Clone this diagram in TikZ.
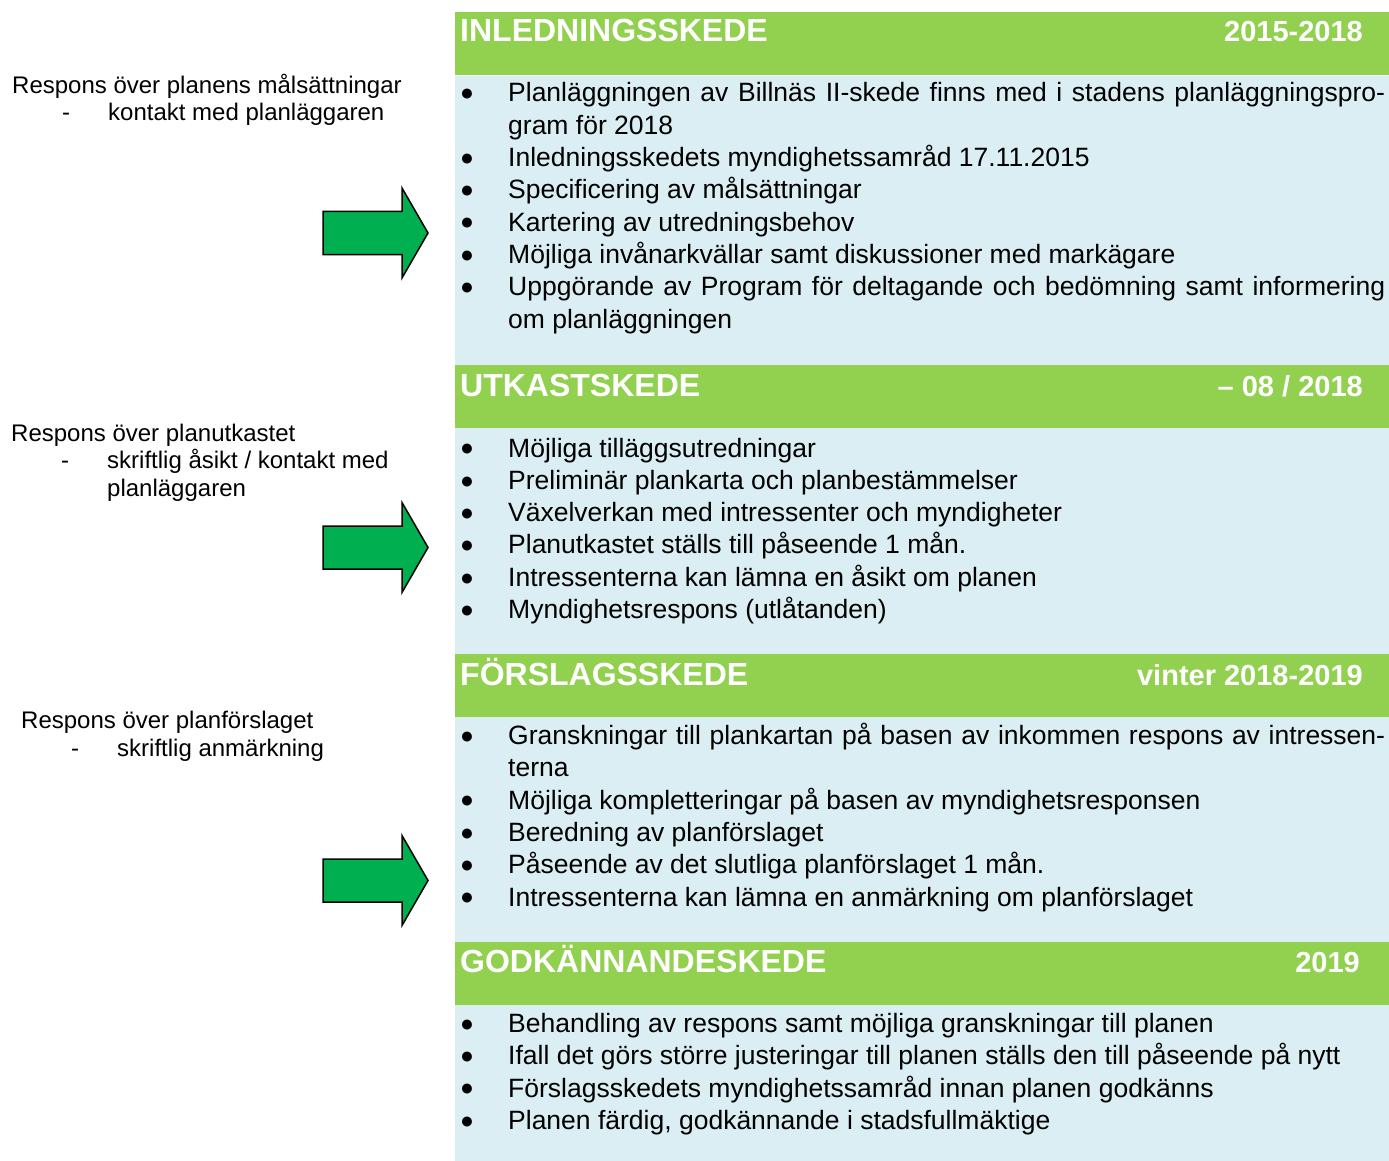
\documentclass[tikz,border=0pt]{standalone}
\usepackage{fontspec}
\setmainfont{Liberation Sans}

\definecolor{hdrgreen}{RGB}{146, 208, 80}
\definecolor{panelblue}{RGB}{218, 238, 243}
\definecolor{arrowgreen}{RGB}{0, 176, 80}

\hyphenpenalty=10000
\exhyphenpenalty=10000
\newcommand{\punkt}[1]{\noindent\hangindent=48pt\hangafter=1%
    \makebox[48pt][l]{\raisebox{1.2pt}{\fontsize{23}{23}\selectfont ●}}#1\par}

\begin{document}
\begin{tikzpicture}[x=1pt, y=-1pt,
    hdr/.style={text=white, inner sep=0pt, anchor=base west, font=\bfseries\fontsize{32}{38}\selectfont},
    datum/.style={hdr, anchor=base east, font=\bfseries\fontsize{29}{34}\selectfont},
    lista/.style={anchor=base west, inner sep=0pt, text width=925pt, align=justify,
        font=\fontsize{26.5}{32.3}\selectfont},
    respons/.style={anchor=base west, inner sep=0pt, align=left, font=\fontsize{24}{27.6}\selectfont}]
        \def\L{455}
        \def\R{1389}
        \useasboundingbox (0,0) rectangle (\R,1161);

        % Panel and header bars
        \fill[panelblue] (\L,76) rectangle (\R,1161);
        \foreach \y in {12,365,654,942}
            \fill[hdrgreen] (\L,\y) rectangle (\R,\y+63);

        % Stage headers
        \node[hdr] (inledning) at (460,42) {INLEDNINGSSKEDE};
        \node[datum] (inledningtid) at (1363,42) {2015-2018};
        \node[hdr] (utkast) at (460,396) {UTKASTSKEDE};
        \node[datum] (utkasttid) at (1363,396) {– 08 / 2018};
        \node[hdr] (forslag) at (460,685) {FÖRSLAGSSKEDE};
        \node[datum] (forslagtid) at (1363,685) {vinter 2018-2019};
        \node[hdr] (godkann) at (460,972) {GODKÄNNANDESKEDE};
        \node[datum] (godkanntid) at (1360,972) {2019};

        % Item lists
        \node[lista] (inledninglista) at (460,102) {%
            \punkt{Planläggningen av Billnäs II-skede finns med i stadens planläggningspro-\linebreak gram för 2018}
            \punkt{Inledningsskedets myndighetssamråd 17.11.2015}
            \punkt{Specificering av målsättningar}
            \punkt{Kartering av utredningsbehov}
            \punkt{Möjliga invånarkvällar samt diskussioner med markägare}
            \punkt{Uppgörande av Program för deltagande och bedömning samt informering\linebreak om planläggningen}};
        \node[lista] (utkastlista) at (460,457) {%
            \punkt{Möjliga tilläggsutredningar}
            \punkt{Preliminär plankarta och planbestämmelser}
            \punkt{Växelverkan med intressenter och myndigheter}
            \punkt{Planutkastet ställs till påseende 1 mån.}
            \punkt{Intressenterna kan lämna en åsikt om planen}
            \punkt{Myndighetsrespons (utlåtanden)}};
        \node[lista] (forslaglista) at (460,744.5) {%
            \punkt{Granskningar till plankartan på basen av inkommen respons av intressen-\linebreak terna}
            \punkt{Möjliga kompletteringar på basen av myndighetsresponsen}
            \punkt{Beredning av planförslaget}
            \punkt{Påseende av det slutliga planförslaget 1 mån.}
            \punkt{Intressenterna kan lämna en anmärkning om planförslaget}};
        \node[lista] (godkannlista) at (460,1032.5) {%
            \punkt{Behandling av respons samt möjliga granskningar till planen}
            \punkt{Ifall det görs större justeringar till planen ställs den till påseende på nytt}
            \punkt{Förslagsskedets myndighetssamråd innan planen godkänns}
            \punkt{Planen färdig, godkännande i stadsfullmäktige}};

        % Response notes on the left (base = last line)
        \node[respons] (respons1) at (12,121) {Respons över planens målsättningar\\
            \hspace*{50pt}\makebox[46pt][l]{-}kontakt med planläggaren};
        \node[respons] (respons2) at (11,496.5) {Respons över planutkastet\\
            \hspace*{50pt}\makebox[46pt][l]{-}skriftlig åsikt / kontakt med\\
            \hspace*{96pt}planläggaren};
        \node[respons] (respons3) at (21,756.5) {Respons över planförslaget\\
            \hspace*{50pt}\makebox[46pt][l]{-}skriftlig anmärkning};

        % Arrows
        \foreach \cy in {233,547.5,880.5}
            \filldraw[arrowgreen, draw=black, line width=1.5pt, line join=miter]
                (323,\cy-21.5) -- (402,\cy-21.5) -- (402,\cy-45) -- (428,\cy)
                -- (402,\cy+45) -- (402,\cy+21.5) -- (323,\cy+21.5) -- cycle;
\end{tikzpicture}
\end{document}
